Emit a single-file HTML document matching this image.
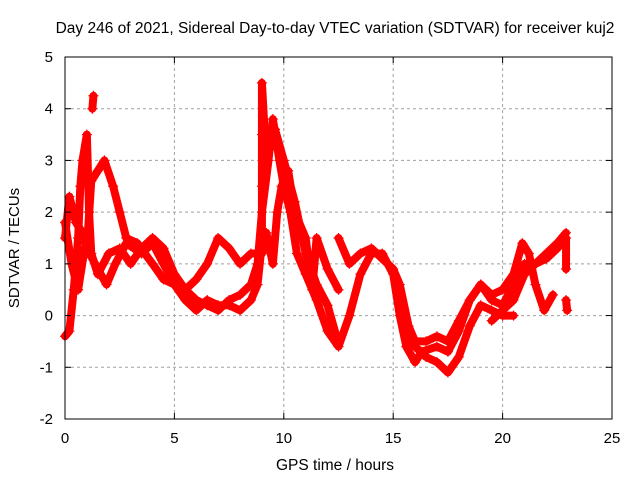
<!DOCTYPE html>
<html><head><meta charset="utf-8"><style>
body{margin:0;background:#fff;}
svg{display:block;font-family:"Liberation Sans",sans-serif;}
</style></head><body>
<svg id="chart" width="640" height="480" xmlns="http://www.w3.org/2000/svg">
<text x="335" y="33" font-size="15.5" text-anchor="middle">Day 246 of 2021, Sidereal Day-to-day VTEC variation (SDTVAR) for receiver kuj2</text>
<text x="335" y="470" font-size="15.5" text-anchor="middle">GPS time / hours</text>
<text transform="translate(19,248) rotate(-90)" font-size="15" text-anchor="middle">SDTVAR / TECUs</text>
<g id="grid"></g>
<g id="series"></g>
<rect x="65" y="57" width="547" height="362" fill="none" stroke="#000" stroke-width="1"/>
<g id="ticks"></g>
</svg>
<script>
const xTicks=[0,5,10,15,20,25];
const yTicks=[-2,-1,0,1,2,3,4,5];
const traceA=[[0,-0.4],[0.2,-0.3],[0.4,0.5],[0.6,1.5],[0.7,2.5],[0.8,3.0],[1.0,3.5],[1.1,2.0],[1.2,1.2],[1.5,0.8],[2.0,1.2],[2.5,1.3],[3.0,1.0],[3.5,1.3],[4,1.5],[4.5,1.3],[5,0.8],[5.5,0.5],[6,0.3],[6.5,0.2],[7,0.1],[7.5,0.3],[8,0.4],[8.5,0.6],[8.8,1.0],[9.0,2.0],[9.3,3.0],[9.5,3.8],[9.8,3.0],[10,2.5],[10.3,2.0],[10.6,1.2],[11,0.8],[11.5,0.3],[12,-0.3],[12.5,-0.6],[13,0.0],[13.5,0.8],[14,1.2],[14.5,1.2],[15,0.8],[15.3,0.0],[15.6,-0.6],[16,-0.9],[16.3,-0.7],[17,-0.6],[17.5,-0.7],[18,-0.3],[18.5,0.3],[19,0.6],[19.5,0.3],[20,0.2],[20.5,0.6],[21,1.0],[21.5,1.0],[22,1.2],[22.5,1.4],[22.9,1.6]];
const traceB=[[0,1.5],[0.2,2.3],[0.5,1.8],[0.8,1.6],[1.0,1.3],[1.2,2.6],[1.5,2.8],[1.8,3.0],[2.2,2.5],[2.5,2.0],[2.8,1.5],[3.3,1.4],[4,1.0],[4.5,0.7],[5,0.6],[5.5,0.5],[6,0.7],[6.5,1.0],[7,1.5],[7.5,1.3],[8,1.0],[8.5,1.2],[9,1.2],[9.2,1.6],[9.5,1.0],[9.7,2.0],[9.9,2.5],[10.2,2.8],[10.5,2.0],[11,1.5],[11.3,0.5],[11.5,1.5],[12,0.9],[12.5,0.5]];
const traceC=[[0,1.8],[0.3,1.0],[0.6,0.5],[0.9,1.3],[1.0,1.3],[1.5,0.9],[1.9,0.6],[2.3,1.0],[2.8,1.4],[3.5,1.2],[4,1.4],[4.5,1.0],[5,0.6],[5.5,0.3],[6,0.1],[6.5,0.3],[7,0.2],[7.5,0.2],[8,0.1],[8.5,0.3],[8.8,0.6],[9.0,1.4],[9.0,2.5],[9.0,3.5],[9.0,4.5],[9.2,3.0],[9.6,3.6],[10,3.0],[10.5,2.2],[11,1.2],[11.5,0.6],[12,0.2],[12.4,-0.4]];
const traceD=[[12.5,1.5],[13,1.0],[13.5,1.2],[14,1.3],[14.5,1.1],[15,0.9],[15.3,0.6],[15.7,-0.2],[16,-0.5],[16.5,-0.5],[17,-0.4],[17.5,-0.5],[18,-0.1],[18.5,0.3],[19,0.6],[19.5,0.4],[20,0.5],[20.5,0.8],[20.9,1.4],[21.2,1.2],[21.5,0.6],[21.9,0.1],[22.3,0.4]];
const traceE=[[19.5,-0.1],[20,0.1],[20.5,0.3],[21,0.8],[21.5,1.0],[22,1.1],[22.5,1.3],[22.9,1.5],[22.9,0.9]];
const traceF=[[15.5,-0.3],[16,-0.6],[16.5,-0.8],[17,-0.9],[17.5,-1.1],[18,-0.8],[18.5,-0.2],[19,0.2],[19.5,0.1],[20,0.0],[20.5,0.0]];
const traceG=[[1.25,4.0],[1.3,4.25]];
const traceH=[[22.9,0.3],[22.95,0.1]];
const traces=[traceA,traceB,traceC,traceD,traceE,traceF,traceG,traceH];
const NS="http://www.w3.org/2000/svg";
const X0=65,X1=612,Y0=419,Y1=57;
function sx(t){return X0+(t-0)/(25-0)*(X1-X0);}
function sy(v){return Y0-(v+2)/(5+2)*(Y0-Y1);}
const grid=document.getElementById('grid'),ticks=document.getElementById('ticks'),ser=document.getElementById('series');
function mk(tag,at,parent){const e=document.createElementNS(NS,tag);for(const k in at)e.setAttribute(k,at[k]);parent.appendChild(e);return e;}
xTicks.forEach(t=>{
 const x=sx(t);
 if(t>0&&t<25){const g=mk('line',{x1:x,x2:x,y1:Y0,y2:Y1,stroke:'#a0a0a0','stroke-dasharray':'3,3'},grid);
 
 }
 const a=mk('line',{x1:x,x2:x,y1:Y0,y2:Y0-6,stroke:'#000'},ticks);
 
 
 const b=mk('line',{x1:x,x2:x,y1:Y1,y2:Y1+6,stroke:'#000'},ticks);
 
 
 const l=mk('text',{x:x,y:Y0+24,'font-size':15,'text-anchor':'middle'},ticks);l.textContent=t;
 
 
});
yTicks.forEach(v=>{
 const y=sy(v);
 if(v>-2&&v<5){const g=mk('line',{x1:X0,x2:X1,y1:y,y2:y,stroke:'#a0a0a0','stroke-dasharray':'3,3'},grid);
 
 }
 const a=mk('line',{x1:X0,x2:X0+6,y1:y,y2:y,stroke:'#000'},ticks);
 
 
 const b=mk('line',{x1:X1,x2:X1-6,y1:y,y2:y,stroke:'#000'},ticks);
 
 
 const l=mk('text',{x:X0-12,y:y+5,'font-size':15,'text-anchor':'end'},ticks);l.textContent=v;
 
 
});
traces.forEach((tr,i)=>{
 const p=mk('polyline',{points:tr.map(d=>sx(d[0])+','+sy(d[1])).join(' '),fill:'none',stroke:'#ff0000','stroke-width':8,'stroke-linejoin':'round','stroke-linecap':'round'},ser);
 
 
 tr.forEach(d=>{
  const x=sx(d[0]),y=sy(d[1]);
  const m=mk('path',{d:`M${x-5},${y}h10M${x},${y-5}v10`,stroke:'#ff0000','stroke-width':1.2},ser);
  
  
 });
});
</script>
</body></html>
